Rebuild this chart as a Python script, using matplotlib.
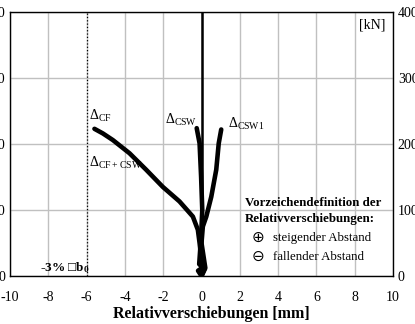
import matplotlib
matplotlib.use("Agg")
import matplotlib.pyplot as plt

plt.rcParams['font.family'] = ['Liberation Serif', 'DejaVu Serif']
plt.rcParams['mathtext.default'] = 'regular'
plt.rcParams['axes.unicode_minus'] = False

# curves: relative displacement [mm] vs. load [kN]
cf_x = [0, -0.18, 0.12, -0.08, -0.02, -0.10, -0.19, -0.45, -1.15, -2.02, -2.89, -3.76, -4.63, -5.15, -5.59]
cf_y = [0, 8, 14, 20, 30, 50, 70, 90, 113, 135, 161, 186, 206, 216, 223]
csw_x = [0, 0.15, -0.12, -0.02, 0.04, -0.02, -0.10, -0.25]
csw_y = [0, 10, 18, 60, 100, 150, 201, 224]
csw1_x = [0, 0.20, 0.0, 0.07, 0.25, 0.51, 0.77, 0.90, 1.03]
csw1_y = [0, 12, 50, 75, 90, 120, 161, 201, 222]

x_ticks = [-10, -8, -6, -4, -2, 0, 2, 4, 6, 8, 10]
y_ticks = [0, 100, 200, 300, 400]
limit_x = -6  # -3% b0

fig = plt.figure(figsize=(4.15, 3.24), dpi=100)
ax = fig.add_axes([10 / 415, 48 / 324, 383 / 415, 264 / 324])

ax.set_xlim(-10, 10)
ax.set_ylim(0, 400)
ax.set_xticks(x_ticks)
ax.set_yticks(y_ticks)
ax.grid(True, color='#c0c0c0', lw=1)
ax.set_axisbelow(True)
for s in ax.spines.values():
    s.set_linewidth(1)
ax.tick_params(axis='both', length=0, labelsize=10)
ax.tick_params(axis='x', pad=11)
ax.tick_params(axis='y', pad=3.5, labelleft=True, labelright=True)

ax.axvline(0, color='black', lw=1.8)
ax.axvline(limit_x, color='black', lw=0.9, ls=':')

for xs, ys in [(cf_x, cf_y), (csw_x, csw_y), (csw1_x, csw1_y)]:
    ax.plot(xs, ys, color='black', lw=3.3, solid_capstyle='round', solid_joinstyle='round')

ax.set_xlabel('Relativverschiebungen [mm]', fontsize=11.5, fontweight='bold')
ax.xaxis.set_label_coords(0.527, -0.112)

ax.text(9.6, 380, '[kN]', fontsize=10, ha='right', va='center')
ax.text(-5.9, 243, 'Δ$_{CF}$', fontsize=10, va='center')
ax.text(-1.9, 236, 'Δ$_{CSW}$', fontsize=10, va='center')
ax.text(1.4, 230, 'Δ$_{CSW1}$', fontsize=10, va='center')
ax.text(-5.9, 171, 'Δ$_{CF+CSW}$', fontsize=10, va='center')
ax.text(-8.45, 12, '-3% \u25a1b$_0$', fontsize=9.5, fontweight='bold', va='center')

ax.text(2.25, 110, 'Vorzeichendefinition der', fontsize=9.3, fontweight='bold', va='center')
ax.text(2.25, 86, 'Relativverschiebungen:', fontsize=9.3, fontweight='bold', va='center')
ax.text(2.6, 58, '\u2295', fontsize=11, va='center', family=['DejaVu Sans'])
ax.text(3.75, 58, 'steigender Abstand', fontsize=9.3, va='center')
ax.text(2.6, 29, '\u2296', fontsize=11, va='center', family=['DejaVu Sans'])
ax.text(3.75, 29, 'fallender Abstand', fontsize=9.3, va='center')

fig.savefig('out.png', dpi=100)
